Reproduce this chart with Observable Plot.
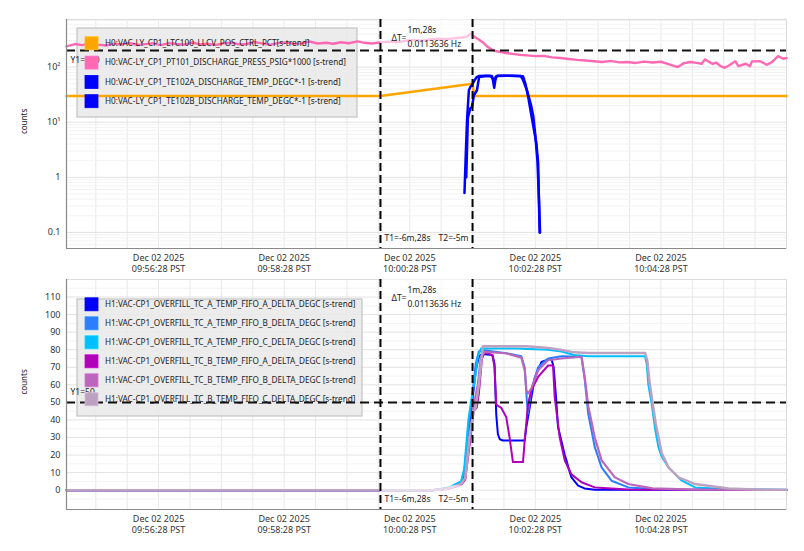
<!DOCTYPE html>
<html><head><meta charset="utf-8">
<script src="https://cdn.jsdelivr.net/npm/d3@7"></script>
<script src="https://cdn.jsdelivr.net/npm/@observablehq/plot@0.6"></script>
<style>
body{margin:0;background:#fff;}
#chart svg{display:block;}
</style></head><body><div id="chart"></div>
<script>
// ---------- time axis (seconds after 09:55:00 PST) ----------
const startTime = new Date(2025, 11, 2, 9, 55, 0);
const spanSeconds = 688;
const cursorT1 = 300, cursorT2 = 388;
const cursorLabels = ["T1=-6m,28s", "T2=-5m"];
const deltaLabels = ["ΔT=", "1m,28s", "0.0113636 Hz"];
const tickSeconds = [88, 208, 328, 448, 568];
const gridSeconds = [28,58,88,118,148,178,208,238,268,298,328,358,388,418,448,478,508,538,568,598,628,658];

// ---------- top panel ----------
const topNames = [
  "H0:VAC-LY_CP1_LTC100_LLCV_POS_CTRL_PCT[s-trend]",
  "H0:VAC-LY_CP1_PT101_DISCHARGE_PRESS_PSIG*1000 [s-trend]",
  "H0:VAC-LY_CP1_TE102A_DISCHARGE_TEMP_DEGC*-1 [s-trend]",
  "H0:VAC-LY_CP1_TE102B_DISCHARGE_TEMP_DEGC*-1 [s-trend]"
];
const topColors = ["#ffa500", "#ff69b4", "#0000ff", "#0000ff"];
const topYDomain = [0.051, 731];
const topYTicks = [0.1, 1, 10, 100];
const topYTickLabels = ["0.1", "1", "10¹", "10²"];
const topYMinor = [0.06,0.07,0.08,0.09,0.2,0.3,0.4,0.5,0.6,0.7,0.8,0.9,2,3,4,5,6,7,8,9,20,30,40,50,60,70,80,90,200,300,400,500,600,700];
const topY1 = 200;

const orangePts = [[0,30],[300,30],[388,50],[389.5,30],[688,30]];
const pinkPts = [[0,238],[8,262],[15,250],[22,268],[30,256],[38,247],[45,266],[52,258],[60,274],[68,252],[75,261],[82,270],[90,251],[98,272],[105,262],[112,255],[120,279],[128,259],[135,266],[142,250],[150,271],[158,277],[165,258],[172,263],[180,284],[188,266],[195,256],[202,272],[210,281],[218,262],[225,270],[232,291],[240,268],[248,277],[255,265],[262,283],[270,271],[278,293],[285,276],[292,268],[300,281],[308,290],[316,283],[324,300],[332,309],[340,302],[348,318],[356,327],[364,322],[372,336],[378,345],[383,362],[386,402],[390,352],[394,318],[398,280],[402,236],[406,210],[410,196],[415,187],[420,180],[426,174],[432,168],[440,163],[448,158],[456,160],[464,150],[472,146],[480,140],[488,135],[496,132],[504,128],[512,124],[520,130],[528,122],[536,124],[544,119],[552,126],[560,121],[568,125],[576,112],[584,100],[590,118],[596,124],[602,119],[607,115],[610,138],[617,115],[621,120],[625,104],[629,97],[633,107],[639,128],[642,104],[649,115],[653,104],[655,127],[663,128],[669,110],[674,123],[680,158],[685,142],[688,146]];
const te102aPts = [[380.3,0.52],[381.5,2.5],[382.8,11.8],[384.5,38],[386,44],[387.6,48],[390,58],[392,66],[394.3,69],[400,69.5],[406.5,69],[407.5,58],[408.7,42],[409.8,58],[411,69],[420,69.5],[430,69],[436.2,68],[438.5,50],[441,30],[443.5,16],[445.8,9],[449,4.1],[450.7,1.8],[452.1,0.1]];
const te102bPts = [[382,1.0],[383.5,11.8],[385.7,17.6],[387.4,18.9],[389.3,30.7],[392.2,38],[394.3,66],[400,69],[405,69],[407.5,62],[408.7,52],[410,66],[412,69.5],[425,69.5],[434,69],[436,60],[440,38],[444,20],[446,13],[448,5.8],[450,2],[451.5,0.38],[452.5,0.1]];

// ---------- bottom panel ----------
const botNames = [
  "H1:VAC-CP1_OVERFILL_TC_A_TEMP_FIFO_A_DELTA_DEGC [s-trend]",
  "H1:VAC-CP1_OVERFILL_TC_A_TEMP_FIFO_B_DELTA_DEGC [s-trend]",
  "H1:VAC-CP1_OVERFILL_TC_A_TEMP_FIFO_C_DELTA_DEGC [s-trend]",
  "H1:VAC-CP1_OVERFILL_TC_B_TEMP_FIFO_A_DELTA_DEGC [s-trend]",
  "H1:VAC-CP1_OVERFILL_TC_B_TEMP_FIFO_B_DELTA_DEGC [s-trend]",
  "H1:VAC-CP1_OVERFILL_TC_B_TEMP_FIFO_C_DELTA_DEGC [s-trend]"
];
const botColors = ["#0000ff", "#2a7fff", "#00bfff", "#b000b8", "#bb66bb", "#bca2c0"];
const botYDomain = [-11, 120];
const botYTicks = [0,10,20,30,40,50,60,70,80,90,100,110];
const botYMinor = [-5,5,15,25,35,45,55,65,75,85,95,105,115];
const botY1 = 50;

const aAPts = [[0,0],[350,0],[365,1],[377,4],[380,9],[385,36],[388,52],[391,68],[394,76],[397,77.5],[407,77],[409,72],[410.6,43.5],[412.2,32],[414,29],[417,28.3],[437.8,28.3],[439.4,36],[442.6,47],[447.4,64],[453.8,73],[463.3,75],[465.5,70],[467.5,55],[469.7,36],[472.9,28],[476.1,20],[477.7,17],[480,12],[482.5,7.3],[488.9,2.6],[495,1],[505,0.2],[688,0.1]];
const aBPts = [[0,0],[350,0],[365,1.2],[377,4.5],[380,10],[385,40],[388,55],[391,72],[394,79],[399.5,79.7],[420,78],[434.6,76.3],[437.8,70],[440,50],[441,43.5],[442.6,50],[444.2,57],[450.6,70],[460.2,75],[472.9,76.3],[492.1,76],[495.3,62.6],[498.5,43.5],[504.8,24.5],[511.3,13],[520.8,5.4],[536.8,1.6],[568.8,0.4],[688,0.1]];
const aCPts = [[0,0],[350,0],[365,1.5],[377,5],[380,12],[384,40],[387,52],[390,62],[393.1,76],[396,80.7],[430,80.7],[460,80],[472.9,79],[485,77],[498.5,76.3],[552.8,76.3],[554.4,72],[556,60],[559.2,49],[562.4,35],[565.6,24.5],[568.8,19],[575.2,13],[587.9,5.4],[600.7,1.6],[632.7,0.6],[688,0.3]];
const bAPts = [[0,0],[350,0],[365,0.8],[377,3],[381,6],[385,25],[389,45],[392,47],[394,55],[397,75],[399.5,78.5],[407,77],[409,70],[410.6,49],[412.2,48],[415.4,47],[420.2,41.6],[423.4,30],[426.6,16],[436.2,16],[437.8,28],[441,49],[444.2,57],[450.6,64.5],[460.2,71],[464.9,71],[466.5,53],[471.3,30],[476.1,17],[482.5,9],[492.1,4.5],[504.8,1.6],[536.8,0.4],[688,0.1]];
const bBPts = [[0,0],[350,0],[365,1],[377,3.5],[381,7],[385,28],[389,48],[393,60],[396,76],[399.5,78.8],[420,78],[434.6,75.5],[438,68],[439.4,57],[441,55],[444.2,58],[450.6,68.3],[460.2,74],[472.9,75],[492.1,76],[495.3,64],[498.5,48],[504.8,30],[511.3,17],[524,7.3],[536.8,3.5],[560,1],[600,0.3],[688,0.1]];
const bCPts = [[0,0],[350,0],[365,1],[377,3.5],[381,7],[385,30],[389,45],[391,47],[394,60],[397.9,82],[440,82],[460.2,81],[472,80],[485,78.5],[498.5,78.2],[552.8,78.2],[555,74],[557,62],[560,50],[563,38],[568.8,21],[575.2,13],[584.8,7.3],[600.7,3.5],[632.7,1],[664.6,0.3],[688,0.2]];

// ---------- helpers ----------
const toDate = s => new Date(startTime.getTime() + s * 1000);
const fmt = d3.timeFormat("%b %d %Y\n%H:%M:%S PST");
const xDomain = [toDate(0), toDate(spanSeconds)];
const T1 = toDate(cursorT1), T2 = toDate(cursorT2);
const FONT = "Noto Sans";

function panel({height, marginTop, marginBottom, yOpts, yTicks, yTickFormat, yMinor, series, colors, widths, y1, y1dy, boxes}) {
  const marks = [
    Plot.ruleX(gridSeconds.map(toDate), {stroke: "#e8e8e8", strokeWidth: 1}),
    Plot.ruleY(yMinor, {stroke: "#f3f3f3", strokeWidth: 1}),
    Plot.ruleY(yTicks, {stroke: "#e2e2e2", strokeWidth: 1}),
    Plot.frame({stroke: "#dcdcdc"})
  ];
  series.forEach((pts, i) => {
    marks.push(Plot.line(pts.map(([t, v]) => ({time: toDate(t), value: v})),
      {x: "time", y: "value", stroke: colors[i], strokeWidth: widths[i], curve: "linear"}));
  });
  marks.push(
    Plot.rect(boxes, {x1: () => T1, x2: () => T2, y1: d => d[0], y2: d => d[1], fill: "white", fillOpacity: 0.6}),
    Plot.ruleY([y1], {stroke: "#111", strokeWidth: 2, strokeDasharray: "9,5"}),
    Plot.text([y1], {x: () => xDomain[0], y: d => d, text: d => `Y1=${d}`, dx: 4, dy: y1dy, textAnchor: "start", fontSize: 8.5, fill: "#222"}),
    Plot.ruleX([T1, T2], {stroke: "#000", strokeWidth: 2, strokeDasharray: "8,4"}),
    Plot.ruleX([xDomain[0]], {stroke: "#8a8a8a", strokeWidth: 1.2}),
    Plot.ruleY([yOpts.domain[0]], {stroke: "#8a8a8a", strokeWidth: 1.2}),
    Plot.axisY({ticks: yTicks, tickFormat: yTickFormat, tickSize: 0, tickPadding: 6, fontSize: 9, fill: "#333", label: null}),
    Plot.axisX({ticks: tickSeconds.map(toDate), tickFormat: fmt, tickSize: 0, tickPadding: 5, fontSize: 9, fill: "#333", lineHeight: 1.22, label: null}),
    Plot.text(["counts"], {frameAnchor: "left", text: d => d, rotate: -90, dx: -42, fontSize: 8, fill: "#222"}),
    Plot.text([deltaLabels[0]], {x: () => T1, frameAnchor: "top", text: d => d, dx: 11, dy: 19, textAnchor: "start", lineAnchor: "middle", fontSize: 8.5, fill: "#222"}),
    Plot.text([deltaLabels[1]], {x: () => T1, frameAnchor: "top", text: d => d, dx: 27, dy: 11, textAnchor: "start", lineAnchor: "middle", fontSize: 8.5, fill: "#222"}),
    Plot.text([deltaLabels[2]], {x: () => T1, frameAnchor: "top", text: d => d, dx: 27, dy: 25, textAnchor: "start", lineAnchor: "middle", fontSize: 8.5, fill: "#222"}),
    Plot.text([cursorLabels[0]], {x: () => T1, frameAnchor: "bottom", text: d => d, dx: 4, dy: -10, textAnchor: "start", lineAnchor: "middle", fontSize: 8.5, fill: "#222"}),
    Plot.text([cursorLabels[1]], {x: () => T2, frameAnchor: "bottom", text: d => d, dx: -4, dy: -10, textAnchor: "end", lineAnchor: "middle", fontSize: 8.5, fill: "#222"})
  );
  return Plot.plot({
    width: 804, height, marginTop, marginBottom, marginLeft: 66, marginRight: 18,
    style: {fontFamily: FONT, fontSize: "9px", background: "white", overflow: "visible"},
    x: {type: "time", domain: xDomain, axis: null},
    y: {...yOpts, axis: null},
    marks
  });
}

function addLegend(svg, names, colors, box, rowY0, rowStep) {
  const s = d3.select(svg);
  const firstLine = svg.querySelector('g[aria-label="line"]');
  s.insert("rect", () => firstLine)
    .attr("x", box.x).attr("y", box.y).attr("width", box.w).attr("height", box.h)
    .attr("fill", "#e9e9e9").attr("fill-opacity", 0.85)
    .attr("stroke", "#c4c4c4").attr("stroke-width", 1.2);
  const g = s.append("g").attr("font-family", FONT).attr("font-size", 8.2).attr("text-anchor", "start");
  names.forEach((n, i) => {
    const cy = rowY0 + i * rowStep;
    g.append("rect").attr("x", 85).attr("y", cy - 6.5).attr("width", 13).attr("height", 13)
      .attr("fill", colors[i]).attr("stroke", d3.color(colors[i]).brighter(0.4)).attr("stroke-width", 0.8);
    g.append("text").attr("x", 105).attr("y", cy).attr("dy", "0.35em").attr("fill", "#222")
      .attr("text-anchor", "start").text(n);
  });
}

const topSvg = panel({
  height: 270, marginTop: 19, marginBottom: 22,
  yOpts: {type: "log", domain: topYDomain},
  yTicks: topYTicks,
  yTickFormat: d => topYTickLabels[topYTicks.indexOf(d)],
  yMinor: topYMinor,
  series: [orangePts, pinkPts, te102aPts, te102bPts],
  colors: topColors, widths: [2.5, 2.4, 2.5, 2.5],
  y1: topY1, y1dy: 10,
  boxes: [[250, topYDomain[1]], [topYDomain[0], 0.085]]
});
addLegend(topSvg, topNames, topColors, {x: 77, y: 28, w: 280, h: 89}, 43.3, 19.3);

const botSvg = panel({
  height: 281, marginTop: 9, marginBottom: 42,
  yOpts: {type: "linear", domain: botYDomain},
  yTicks: botYTicks,
  yTickFormat: d => String(d),
  yMinor: botYMinor,
  series: [aAPts, aBPts, aCPts, bAPts, bBPts, bCPts],
  colors: botColors, widths: [2, 2, 2, 2, 2.2, 2.5],
  y1: botY1, y1dy: -10,
  boxes: [[104, botYDomain[1]], [botYDomain[0], 2.5]]
});
addLegend(botSvg, botNames, botColors, {x: 77, y: 29, w: 285, h: 117}, 34.3, 19);

document.getElementById("chart").append(topSvg, botSvg);
</script>
</body></html>
